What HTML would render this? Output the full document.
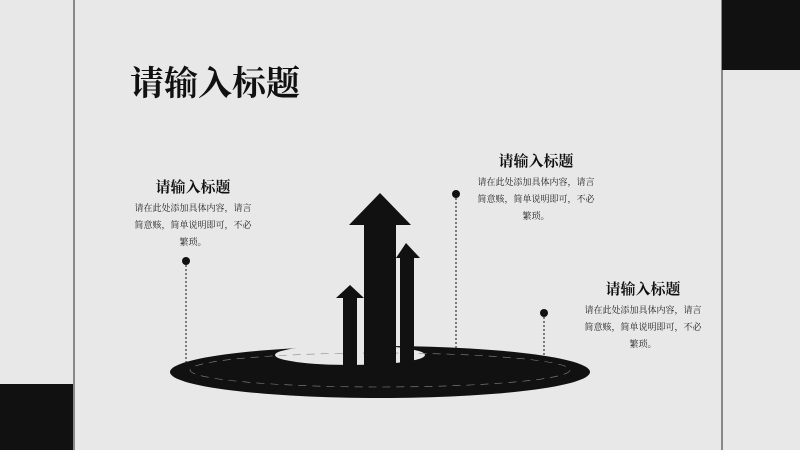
<!DOCTYPE html>
<html><head><meta charset="utf-8"><style>
body{margin:0;width:800px;height:450px;background:#e8e8e8;position:relative;overflow:hidden;font-family:"Liberation Serif","Noto Serif CJK SC",serif;color:#111}
.t{position:absolute;text-align:center}
.h{font-size:15px;font-weight:bold}
.b{font-size:9px;line-height:17px;margin-top:3px;color:#222}
</style></head><body>
<div style="position:absolute;left:73px;top:0;width:2px;height:450px;background:#888"></div>
<div style="position:absolute;left:721px;top:0;width:2px;height:450px;background:#888"></div>
<div style="position:absolute;left:0;top:384px;width:73px;height:66px;background:#111"></div>
<div style="position:absolute;left:722px;top:0;width:78px;height:70px;background:#111"></div>
<div style="position:absolute;left:130px;top:56px;font-size:34px;font-weight:bold">请输入标题</div>
<div class="t" style="left:132px;top:176px;width:122px"><div class="h">请输入标题</div><div class="b">请在此处添加具体内容，请言简意赅，简单说明即可，不必繁琐。</div></div>
<div class="t" style="left:475px;top:150px;width:122px"><div class="h">请输入标题</div><div class="b">请在此处添加具体内容，请言简意赅，简单说明即可，不必繁琐。</div></div>
<div class="t" style="left:582px;top:278px;width:122px"><div class="h">请输入标题</div><div class="b">请在此处添加具体内容，请言简意赅，简单说明即可，不必繁琐。</div></div>
<svg width="800" height="450" style="position:absolute;left:0;top:0">
<ellipse cx="380" cy="372" rx="210" ry="26" fill="#111"/>
<ellipse cx="350" cy="355" rx="75" ry="10" fill="#e8e8e8"/>
<ellipse cx="380" cy="370" rx="190" ry="17" fill="none" stroke="#888" stroke-width="0.6" stroke-dasharray="8 6"/>
<polygon points="336,298 350,285 364,298 357,298 357,370 343,370 343,298" fill="#111"/>
<polygon points="349,225 380,193 411,225 396,225 396,372 364,372 364,225" fill="#111"/>
<polygon points="396,258 406,243 420,258 414,258 414,370 400,370 400,258" fill="#111"/>
<g fill="#111"><circle cx="186" cy="261" r="4"/><circle cx="456" cy="194" r="4"/><circle cx="544" cy="313" r="4"/></g>
<g stroke="#111" stroke-width="1" stroke-dasharray="2 2"><line x1="186" y1="261" x2="186" y2="362"/><line x1="456" y1="194" x2="456" y2="366"/><line x1="544" y1="313" x2="544" y2="356"/></g>
</svg>
</body></html>
